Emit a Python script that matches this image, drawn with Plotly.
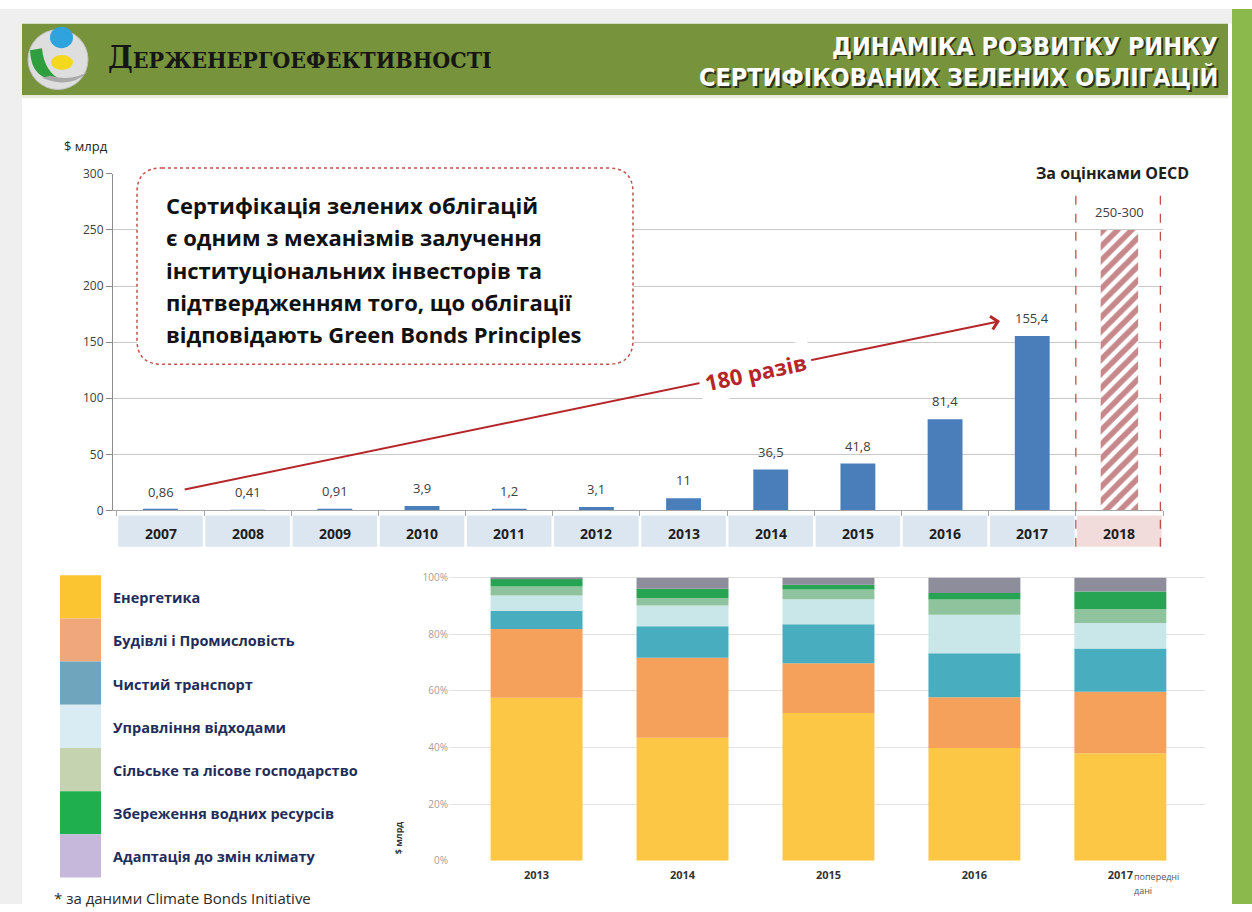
import plotly.graph_objects as go

W, H = 1252, 912


def px(x):
    return x / W


def py(y):
    return 1 - y / H


# ---------------- data ----------------
years_top = ["2007", "2008", "2009", "2010", "2011", "2012", "2013", "2014", "2015", "2016", "2017"]
values_top = [0.86, 0.41, 0.91, 3.9, 1.2, 3.1, 11, 36.5, 41.8, 81.4, 155.4]
labels_top = ["0,86", "0,41", "0,91", "3,9", "1,2", "3,1", "11", "36,5", "41,8", "81,4", "155,4"]
year_forecast = ["2018"]
value_forecast = [250]
label_forecast = ["250-300"]
all_years = years_top + year_forecast

years_share = ["2013", "2014", "2015", "2016", "2017"]
sectors = ["Енергетика", "Будівлі і Промисловість", "Чистий транспорт", "Управління відходами",
           "Сільське та лісове господарство", "Збереження водних ресурсів", "Адаптація до змін клімату"]
share_energy = [57.6, 43.5, 52.2, 39.8, 38.0]
share_buildings = [24.3, 28.2, 17.6, 18.0, 21.7]
share_transport = [6.4, 11.1, 13.7, 15.5, 15.3]
share_waste = [5.4, 7.4, 8.9, 13.6, 9.0]
share_agri = [3.2, 2.6, 3.4, 5.4, 4.8]
share_water = [2.7, 3.3, 1.7, 2.3, 6.3]
share_adapt = [0.4, 3.9, 2.5, 5.4, 4.9]
shares = [share_energy, share_buildings, share_transport, share_waste, share_agri, share_water, share_adapt]
bar_colors = ["#fcc744", "#f5a15b", "#48aebf", "#c9e7e8", "#8fc39d", "#27a453", "#8e8d9b"]
legend_colors = ["#fbc531", "#f0a77c", "#6fa5bd", "#d9ecf3", "#c6d3b0", "#1faf4e", "#c5b8da"]
pct_ticks = [0, 20, 40, 60, 80, 100]
pct_labels = ["0%", "20%", "40%", "60%", "80%", "100%"]

box_lines = ["Сертифікація зелених облігацій",
             "є одним з механізмів залучення",
             "інституціональних інвесторів та",
             "підтвердженням того, що облігації",
             "відповідають Green Bonds Principles"]

FONT = "Open Sans, Lato, DejaVu Sans, sans-serif"

fig = go.Figure()

# ---------------- top chart ----------------
fig.add_trace(go.Bar(x=years_top, y=values_top, marker=dict(color="#4a7ebb", line=dict(width=0)),
                     width=0.4, xaxis="x", yaxis="y", showlegend=False, hoverinfo="skip"))
fig.add_trace(go.Bar(x=year_forecast, y=value_forecast, width=0.43, xaxis="x", yaxis="y",
                     marker=dict(color="white", line=dict(width=0),
                                 pattern=dict(shape="/", fgcolor="#8e1118", bgcolor="white",
                                              size=10, solidity=0.55)),
                     showlegend=False, hoverinfo="skip"))

# ---------------- bottom chart ----------------
for name, vals, col in zip(sectors, shares, bar_colors):
    fig.add_trace(go.Bar(x=years_share, y=vals, name=name, marker=dict(color=col, line=dict(width=0)),
                         width=0.63, xaxis="x2", yaxis="y2", showlegend=False, hoverinfo="skip"))

shapes = []
annotations = []


def note(x, y, text, size, color, xanchor="center", family=FONT, **kw):
    d = dict(x=x, y=y, xref="paper", yref="paper", text=text, showarrow=False,
             xanchor=xanchor, yanchor="middle", font=dict(family=family, size=size, color=color))
    d.update(kw)
    annotations.append(d)


def prect(x0, y0, x1, y1, color, **kw):
    d = dict(type="rect", xref="paper", yref="paper", x0=px(x0), x1=px(x1), y0=py(y1), y1=py(y0),
             fillcolor=color, line=dict(width=0))
    d.update(kw)
    shapes.append(d)


# background elements
prect(0, 0, 22, H, "#efefef", layer="below")
prect(0, 0, 1232, 15, "#efefef", layer="below")
prect(1232, 0, W, H, "#8cb94b", layer="below")
prect(22, 15, 1228, 88, "#77933c", layer="below")
prect(22, 88, 1228, 91, "#e9eddc", layer="below")

# logo
shapes.append(dict(type="circle", xref="paper", yref="paper", x0=px(28), x1=px(88), y0=py(82), y1=py(21),
                   fillcolor="#dedede", line=dict(color="#c2c2c2", width=1)))
shapes.append(dict(type="path", xref="paper", yref="paper",
                   path=f"M {px(30)},{py(42)} Q {px(31)},{py(74)} {px(62)},{py(73)} Q {px(44)},{py(64)} {px(42)},{py(40)} Z",
                   fillcolor="#2e9e3f", line=dict(width=0)))
shapes.append(dict(type="path", xref="paper", yref="paper",
                   path=f"M {px(42)},{py(70)} Q {px(70)},{py(82)} {px(88)},{py(64)} Q {px(72)},{py(74)} {px(50)},{py(68)} Z",
                   fillcolor="#a9a9a9", line=dict(width=0)))
shapes.append(dict(type="circle", xref="paper", yref="paper", x0=px(50), x1=px(73), y0=py(40), y1=py(18),
                   fillcolor="#2fa3dd", line=dict(width=0)))
shapes.append(dict(type="circle", xref="paper", yref="paper", x0=px(51), x1=px(73), y0=py(62), y1=py(47),
                   fillcolor="#f3d81e", line=dict(width=0)))

# category band under top chart
for i, yr in enumerate(all_years):
    col = "#f2dcdb" if yr in year_forecast else "#dce6f1"
    shapes.append(dict(type="rect", xref="x", yref="paper", x0=i - 0.485, x1=i + 0.485,
                       y0=py(548), y1=py(516), fillcolor=col, line=dict(width=0)))
    annotations.append(dict(x=i, y=py(534), xref="x", yref="paper", text=f"<b>{yr}</b>", showarrow=False,
                            xanchor="center", yanchor="middle",
                            font=dict(family=FONT, size=14, color="#1e1e1e")))

# forecast dashed separators
for xv in (10.5, 11.47):
    shapes.append(dict(type="line", xref="x", yref="paper", x0=xv, x1=xv, y0=py(548), y1=py(175),
                       line=dict(color="#c0504d", width=1.3, dash="dash")))

# rounded text box
bx0, bx1, by0, by1, r = 137, 633, 162, 362, 25
path = (f"M {px(bx0 + r)},{py(by0)} L {px(bx1 - r)},{py(by0)} Q {px(bx1)},{py(by0)} {px(bx1)},{py(by0 + r)} "
        f"L {px(bx1)},{py(by1 - r)} Q {px(bx1)},{py(by1)} {px(bx1 - r)},{py(by1)} "
        f"L {px(bx0 + r)},{py(by1)} Q {px(bx0)},{py(by1)} {px(bx0)},{py(by1 - r)} "
        f"L {px(bx0)},{py(by0 + r)} Q {px(bx0)},{py(by0)} {px(bx0 + r)},{py(by0)} Z")
shapes.append(dict(type="path", xref="paper", yref="paper", path=path, fillcolor="white",
                   line=dict(color="#c0504d", width=1.5, dash="dot")))
for k, line in enumerate(box_lines):
    note(px(164), py(200 + k * 32.8), f"<b>{line}</b>", 22, "#111111", xanchor="left")

# value labels for top chart
for i, (v, lab) in enumerate(zip(values_top + value_forecast, labels_top + label_forecast)):
    annotations.append(dict(x=i, y=v, xref="x", yref="y", text=lab, showarrow=False, yshift=18,
                            xanchor="center", yanchor="middle",
                            font=dict(family=FONT, size=13, color="#404040")))

# growth arrow
annotations.append(dict(x=9.63, y=168.8, ax=0.26, ay=18.4, xref="x", yref="y", axref="x", ayref="y",
                        text="", showarrow=True, arrowhead=4, arrowsize=1.3, arrowwidth=2,
                        arrowcolor="#b5262b"))
annotations.append(dict(x=6.82, y=123, xref="x", yref="y", text="<b>180 разів</b>", showarrow=False,
                        xanchor="center", yanchor="middle",
                        textangle=-12, bgcolor="white", borderpad=5,
                        font=dict(family=FONT, size=22, color="#b5262b")))

note(px(1112), py(167), "<b>За оцінками OECD</b>", 16, "#1e1e1e", bgcolor="white", borderpad=3)
note(px(62), py(140), "$ млрд", 13, "#262626", xanchor="left")

# header texts
note(px(106), py(49), "<b><span style='font-size:31px'>Д</span>ЕРЖЕНЕРГОЕФЕКТИВНОСТІ</b>", 23, "#161616",
     xanchor="left", family="DejaVu Serif Condensed, DejaVu Serif, Liberation Serif, serif")
title_lines = ["ДИНАМІКА РОЗВИТКУ РИНКУ", "СЕРТИФІКОВАНИХ ЗЕЛЕНИХ ОБЛІГАЦІЙ"]
title_font = "Liberation Sans Narrow, DejaVu Sans Condensed, Arial Narrow, sans-serif"
for k, t in enumerate(title_lines):
    yy = [38, 70][k]
    note(px(1221.5), py(yy + 1.5), f"<b>{t}</b>", 25, "#2d3318", xanchor="right", family=title_font)
    note(px(1220), py(yy), f"<b>{t}</b>", 25, "#ffffff", xanchor="right", family=title_font)

# legend (bottom-left)
for k, (name, col) in enumerate(zip(sectors, legend_colors)):
    top = 577 + 44 * k
    prect(60, top, 101, top + 44, col)
    note(px(111), py(top + 23), f"<b>{name}</b>", 14.5, "#1f2d5a", xanchor="left")

note(px(52), py(906), "* за даними Climate Bonds Initiative", 15, "#2a2a2a", xanchor="left")
note(px(398), py(845), "<b>$ млрд</b>", 9, "#333333", textangle=-90)
note(px(1132), py(884), "попередні", 9, "#555555", xanchor="left")
note(px(1132), py(898), "дані", 9, "#555555", xanchor="left")

fig.update_layout(
    width=W, height=H, margin=dict(l=0, r=0, t=0, b=0),
    paper_bgcolor="white", plot_bgcolor="rgba(0,0,0,0)",
    barmode="relative", font=dict(family=FONT),
    xaxis=dict(domain=[px(113), px(1163)], range=[-0.545, 11.5], type="category",
               categoryorder="array", categoryarray=all_years, anchor="y",
               showline=True, linecolor="#a6a6a6", linewidth=1, ticks="outside", tickson="boundaries",
               ticklen=5, tickcolor="#a6a6a6", showticklabels=False, showgrid=False, fixedrange=True),
    yaxis=dict(domain=[py(511), py(168)], range=[0, 300], dtick=50, anchor="x",
               showgrid=True, gridcolor="#c9c9c9", gridwidth=1, zeroline=False,
               showline=True, linecolor="#8c8c8c", ticks="outside", ticklen=6, tickcolor="#8c8c8c",
               tickfont=dict(family=FONT, size=12, color="#404040")),
    xaxis2=dict(domain=[px(449), px(1205)], range=[-0.6, 4.58], type="category", anchor="y2",
                showgrid=False, showline=False, ticks="", ticklabelstandoff=6,
                tickfont=dict(family=FONT, size=11, color="#333333", weight="bold")),
    yaxis2=dict(domain=[py(868), py(578)], range=[0, 100.5], tickmode="array", tickvals=pct_ticks,
                ticktext=pct_labels, anchor="x2", showgrid=True, gridcolor="#e3e3e3", zeroline=False,
                tickfont=dict(family=FONT, size=10, color="#a0a0a0")),
    shapes=shapes, annotations=annotations,
)

fig.write_html("out.html")
